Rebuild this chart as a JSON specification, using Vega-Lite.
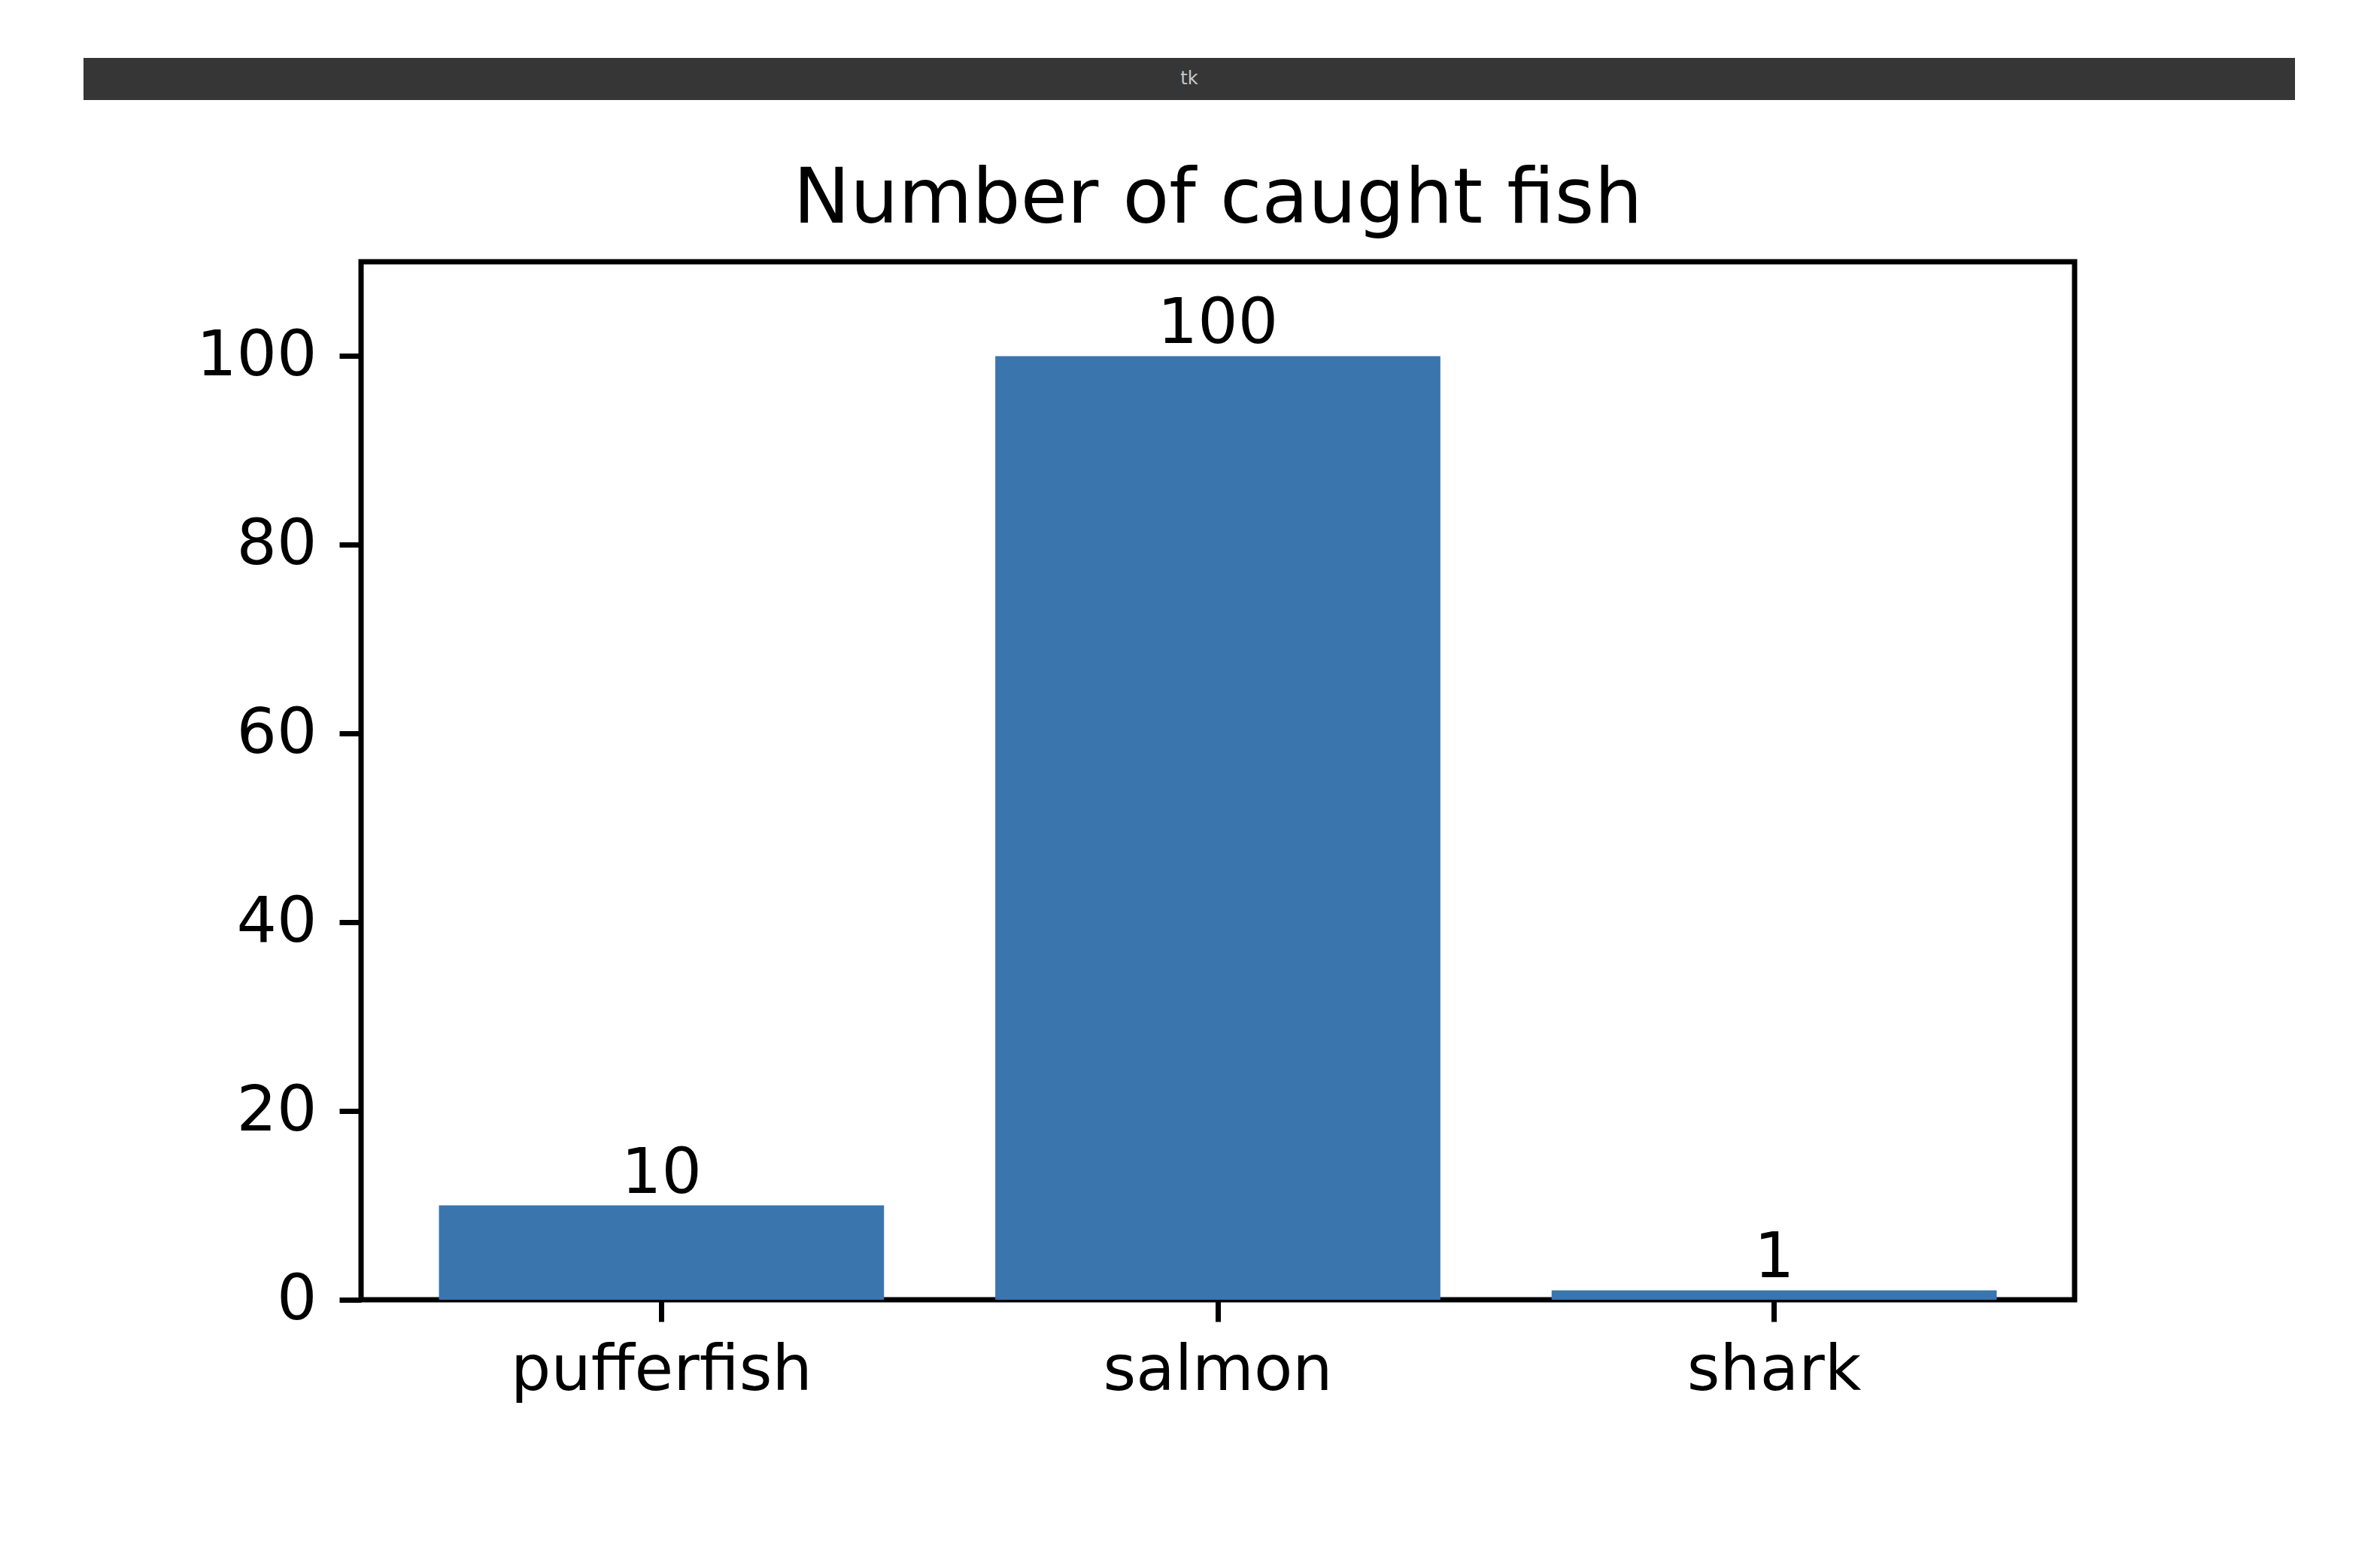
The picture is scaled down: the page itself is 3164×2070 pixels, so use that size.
{
  "$schema": "https://vega.github.io/schema/vega-lite/v6.json",
  "background": "white",
  "padding": {"left": 111, "top": 77, "right": 113, "bottom": 149},
  "spacing": 78,
  "config": {
    "font": "DejaVu Sans",
    "view": {"stroke": "black", "strokeWidth": 7},
    "axis": {"labelFont": "DejaVu Sans", "labelFontSize": 84, "labelColor": "black", "labelLimit": 0, "tickColor": "black", "tickWidth": 7, "tickSize": 29, "domain": false, "grid": false, "title": null}
  },
  "vconcat": [
    {
      "width": 2940,
      "height": 56,
      "view": {"fill": "#363636", "stroke": null},
      "data": {"values": [{"label": "tk"}]},
      "mark": {"type": "text", "fontSize": 24, "color": "#c8c8c8", "baseline": "middle"},
      "encoding": {"text": {"field": "label", "type": "nominal"}}
    },
    {
      "spacing": 0,
      "hconcat": [
        {
          "width": 145,
          "height": 1380,
          "view": {"stroke": null},
          "data": {"values": []},
          "mark": "point"
        },
        {
          "width": 2278,
          "height": 1380,
          "title": {"text": "Number of caught fish", "font": "DejaVu Sans", "fontSize": 101, "fontWeight": "normal", "color": "black", "offset": 31, "anchor": "middle"},
          "data": {"values": [
            {"fish": "pufferfish", "count": 10},
            {"fish": "salmon", "count": 100},
            {"fish": "shark", "count": 1}
          ]},
          "encoding": {
            "x": {"field": "fish", "type": "nominal", "sort": null, "scale": {"paddingInner": 0.2, "paddingOuter": 0.14}, "axis": {"labelAngle": 0, "labelPadding": 24, "labelBaseline": "top"}},
            "y": {"field": "count", "type": "quantitative", "scale": {"domain": [0, 110], "nice": false}, "axis": {"values": [0, 20, 40, 60, 80, 100], "labelPadding": 30, "minExtent": 220}}
          },
          "layer": [
            {"mark": {"type": "bar", "color": "#3a75ae"}},
            {"mark": {"type": "text", "fontSize": 84, "baseline": "alphabetic", "dy": -17, "color": "black"}, "encoding": {"text": {"field": "count", "type": "quantitative"}}}
          ]
        }
      ]
    }
  ]
}
